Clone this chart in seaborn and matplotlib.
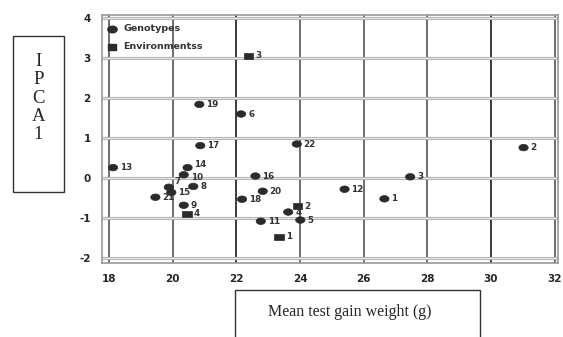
import numpy as np
import pandas as pd
import seaborn as sns
import matplotlib.pyplot as plt
from matplotlib.path import Path

# genotype scores
geno_ids = ["1", "2", "3", "4", "5", "6", "7", "8", "9", "10", "11",
            "12", "13", "14", "15", "16", "17", "18", "19", "20", "21", "22"]
geno_x = [26.65, 31.02, 27.46, 23.63, 24.01, 22.15, 19.88, 20.65, 20.35, 20.35, 22.77,
          25.40, 18.13, 20.47, 19.96, 22.60, 20.87, 22.18, 20.84, 22.83, 19.46, 23.90]
geno_y = [-0.52, 0.76, 0.03, -0.85, -1.05, 1.60, -0.23, -0.21, -0.68, 0.08, -1.08,
          -0.28, 0.26, 0.26, -0.36, 0.05, 0.81, -0.53, 1.84, -0.33, -0.48, 0.85]

# environment scores
env_ids = ["1", "2", "3", "4"]
env_x = [23.34, 23.93, 22.38, 20.45]
env_y = [-1.47, -0.70, 3.05, -0.89]

df = pd.DataFrame({
    "id": geno_ids + env_ids,
    "x": geno_x + env_x,
    "y": geno_y + env_y,
    "type": ["Genotypes"] * len(geno_ids) + ["Environmentss"] * len(env_ids),
})

# flattened ellipse / rectangle markers like the original
t = np.linspace(0, 2 * np.pi, 40)
ellipse = Path(np.column_stack([np.cos(t), 0.7 * np.sin(t)]), closed=True)
rect = Path([(-1, -0.65), (1, -0.65), (1, 0.65), (-1, 0.65), (-1, -0.65)], closed=True)

sns.set_style("white")
plt.rcParams["axes.unicode_minus"] = False
fig = plt.figure(figsize=(5.63, 3.37), dpi=100)
ax = fig.add_axes([0.181, 0.22, 0.81, 0.735])

sns.scatterplot(data=df, x="x", y="y", style="type",
                markers={"Genotypes": ellipse, "Environmentss": rect},
                color="#2b2b2b", edgecolor="#2b2b2b", s=45, linewidth=0.5,
                ax=ax, zorder=3, legend=False)

# a few crowded labels get nudged
nudge = {"7": (4, 4), "14": (5, 2), "10": (5, -2)}
for _, r in df.iterrows():
    off = nudge.get(r["id"], (5, 0)) if r["type"] == "Genotypes" else (5, 0)
    ax.annotate(r["id"], (r["x"], r["y"]), xytext=off, textcoords="offset points",
                fontsize=6.3, fontweight="bold", color="#333333", va="center", ha="left",
                zorder=4)

ax.set_xlim(17.78, 32.1)
ax.set_ylim(-2.12, 4.07)
ax.set_xticks(range(18, 33, 2))
ax.set_yticks(range(-2, 5))
ax.grid(False)
for xv in range(18, 33, 2):
    col = "#1a1a1a" if xv in (22, 30) else "#555555"
    ax.axvline(xv, color=col, lw=1.2, zorder=1)
for yv in range(-2, 5):
    ax.axhline(yv, color="#b5b5b5", lw=2.2, zorder=1)
    ax.axhline(yv, color="#ffffff", lw=0.5, zorder=1)

for sp in ax.spines.values():
    sp.set_color("#999999")
    sp.set_linewidth(1.2)

ax.tick_params(axis="both", length=0, labelsize=7.5, pad=8)
for lab in ax.get_xticklabels() + ax.get_yticklabels():
    lab.set_fontweight("bold")
ax.set_xlabel("")
ax.set_ylabel("")

# legend drawn like the original (no frame)
ax.scatter([18.1], [3.73], marker=ellipse, s=45, color="#2b2b2b", zorder=3)
ax.scatter([18.1], [3.28], marker=rect, s=38, color="#2b2b2b", zorder=3)
ax.text(18.45, 3.73, "Genotypes", fontsize=6.8, fontweight="bold", va="center", color="#333333")
ax.text(18.45, 3.28, "Environmentss", fontsize=6.8, fontweight="bold", va="center", color="#333333")

# boxed axis titles
fig.text(38.5 / 563, 1 - 98 / 337, "I\nP\nC\nA\n1", family="Liberation Serif", fontsize=13.5,
         ha="center", va="center", linespacing=1.1)
fig.patches.append(plt.Rectangle((13 / 563, 1 - 192 / 337), 51 / 563, 156 / 337,
                                 transform=fig.transFigure, fill=False, ec="#333333", lw=1))
fig.patches.append(plt.Rectangle((235 / 563, -0.05), 245 / 563, 1 - 290 / 337 + 0.05,
                                 transform=fig.transFigure, fill=False, ec="#333333", lw=1))
fig.text(350 / 563, 1 - 312 / 337, "Mean test gain weight (g)", family="Liberation Serif",
         fontsize=11.5, ha="center", va="center")

fig.savefig("out.png", dpi=100)
